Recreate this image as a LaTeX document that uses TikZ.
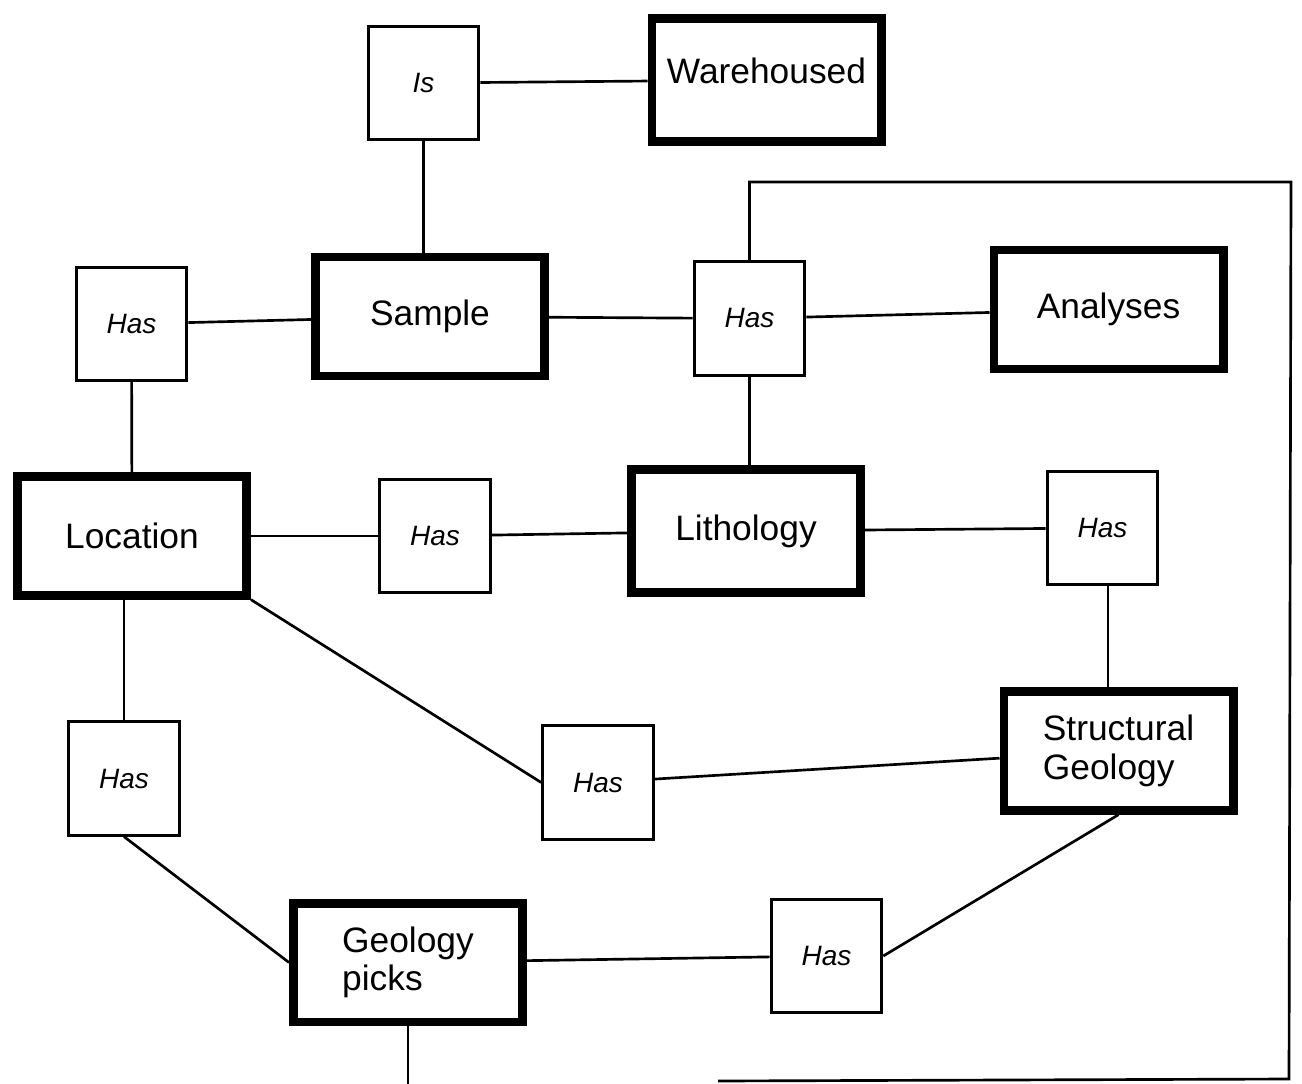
\documentclass[tikz,border=0pt]{standalone}
\usepackage{fontspec}
\setmainfont{Liberation Sans}
\usetikzlibrary{positioning}
\tikzset{
    entity/.style = {rectangle, draw=black, line width=6.5pt, align=left, minimum width=172pt, minimum height=89pt, font=\fontsize{26.5}{29}\selectfont},
    rel/.style = {rectangle, draw=black, line width=2.2pt, minimum width=83pt, minimum height=85pt, font=\fontsize{21}{24}\selectfont\itshape},
    link/.style = {line width=2pt, black},
}

\begin{document}
\begin{tikzpicture}[x=0.75pt,y=-0.75pt]
\useasboundingbox (0,0) rectangle (1302,1084);
\node[rel] at (423.5,83.0) (is) {Is};
\node[entity, minimum height=92pt, text depth=14pt] at (766.5,80.0) (ware) {Warehoused};
\node[entity] at (430.0,316.5) (sample) {Sample};
\node[rel] at (131.5,324.0) (hasa) {Has};
\node[rel] at (749.5,318.5) (hasb) {Has};
\node[entity] at (1108.5,309.5) (analyses) {Analyses};
\node[entity] at (132.0,536.0) (location) {Location};
\node[rel] at (435.0,536.0) (hasc) {Has};
\node[entity, minimum height=92pt] at (746.0,531.0) (litho) {Lithology};
\node[rel] at (1102.5,528.0) (hasd) {Has};
\node[entity] at (1118.5,751.0) (struct) {Structural\\Geology};
\node[rel] at (598.0,782.5) (hase) {Has};
\node[rel] at (124.0,778.5) (hasf) {Has};
\node[entity] at (408.0,962.5) (picks) {Geology\\picks};
\node[rel] at (826.5,956.0) (hasg) {Has};
\coordinate (ctop) at (1291,182);
\coordinate (cbot) at (1289,1079);
\coordinate (cend) at (718,1081);
\coordinate (pend) at (402,1084);
%
\draw[link] (is) -- (ware);
\draw[link] (is.south) -- (is.south |- sample.north);
\draw[link] (hasa) -- (sample);
\draw[link] (sample) -- (hasb);
\draw[link] (hasb) -- (analyses);
\draw[link] (hasb.south) -- (hasb.south |- litho.north);
\draw[link] (hasa) -- (location);
\draw[link] (location) -- (hasc);
\draw[link] (hasc) -- (litho);
\draw[link] (litho) -- (hasd);
\draw[link] ([xshift=4pt]hasd.south) -- ([xshift=4pt]hasd.south |- struct.north);
\draw[link] (location.south east) -- (hase.west);
\draw[link] (hase) -- (struct);
\draw[link] (hasf.north |- location.south) -- (hasf.north);
\draw[link] (hasf.south) -- (picks.west);
\draw[link] (picks) -- (hasg);
\draw[link] (hasg.east) -- (struct.south);
\draw[link] (pend -| picks.south) -- (picks.south);
\draw[link] (hasb.north) |- (ctop) -- (cbot) -- (cend);
\end{tikzpicture}
\end{document}
